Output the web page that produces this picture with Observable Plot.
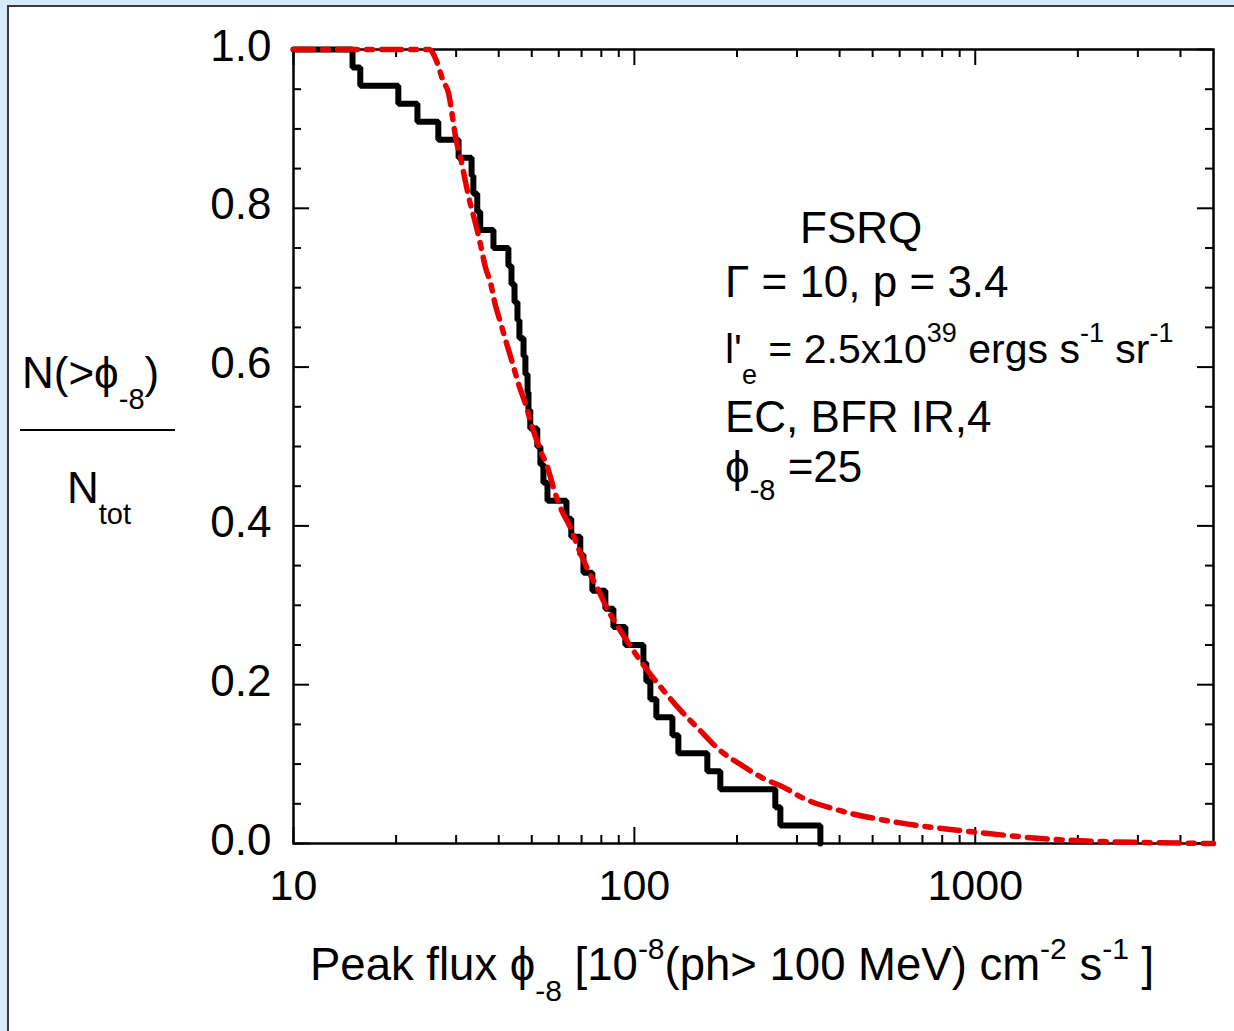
<!DOCTYPE html>
<html><head><meta charset="utf-8">
<script src="https://cdn.jsdelivr.net/npm/d3@7"></script>
<script src="https://cdn.jsdelivr.net/npm/@observablehq/plot@0.6"></script>
<style>
html,body{margin:0;padding:0;background:#d5eafa;width:1234px;height:1031px;overflow:hidden;}
#panel{position:absolute;left:7px;top:5px;width:1300px;height:1100px;background:#fff;border-left:2px solid #3a3a3a;border-top:2px solid #3a3a3a;}
#chart{position:absolute;left:0;top:0;}
svg text{white-space:pre;}
</style></head><body><div id="panel"></div><div id="chart"></div>
<script>
// Observed sample: step points (flux at which N(>phi)/Ntot drops, fraction after drop)
const stepFlux = [10, 14.9, 15.7, 20.3, 23.1, 26.6, 30.5, 33.3, 33.7, 34.6, 35.3, 38.6, 42.7, 43.6, 44.5, 45.4, 46.0, 47.3, 47.9, 48.6, 48.9, 49.5, 51.9, 53.0, 54.1, 55.6, 63.2, 65.3, 69.4, 70.9, 75.3, 82.2, 86.8, 94.1, 106.3, 108.4, 111.4, 116.0, 129.3, 134.6, 163.7, 178.7, 259.1, 268.1, 351.3];
const stepFrac = [1.0, 0.9773, 0.9545, 0.9318, 0.9091, 0.8864, 0.8636, 0.8409, 0.8182, 0.7955, 0.7727, 0.75, 0.7273, 0.7045, 0.6818, 0.6591, 0.6364, 0.6136, 0.5909, 0.5682, 0.5455, 0.5227, 0.5, 0.4773, 0.4545, 0.4318, 0.4091, 0.3864, 0.3636, 0.3409, 0.3182, 0.2955, 0.2727, 0.25, 0.2273, 0.2045, 0.1818, 0.1591, 0.1364, 0.1136, 0.0909, 0.0682, 0.0455, 0.0227, 0.0];
// Model curve
const modelFlux = [10, 25, 26.2, 27.5, 28.5, 29.3, 29.9, 30.9, 31.9, 33.0, 34.2, 35.3, 36.6, 37.8, 39.1, 40.5, 41.9, 43.9, 45.7, 47.9, 50.2, 53.0, 55.6, 57.9, 60.7, 64.9, 68.5, 72.8, 78.4, 83.9, 91.0, 99.3, 109.2, 121.6, 136.4, 156.2, 178.7, 207.4, 238.9, 273.5, 313.1, 396.5, 602.7, 1014, 1900, 5000];
const modelFrac = [1.0, 1.0, 0.987, 0.96, 0.945, 0.914, 0.889, 0.864, 0.835, 0.806, 0.781, 0.756, 0.725, 0.707, 0.678, 0.656, 0.634, 0.605, 0.579, 0.554, 0.524, 0.495, 0.474, 0.448, 0.423, 0.398, 0.372, 0.346, 0.319, 0.293, 0.268, 0.243, 0.218, 0.193, 0.168, 0.142, 0.117, 0.098, 0.082, 0.071, 0.057, 0.042, 0.026, 0.014, 0.004, 0.0];
// Ticks
const xMajor = [10, 100, 1000];
const xMinor = [20, 30, 40, 50, 60, 70, 80, 90, 200, 300, 400, 500, 600, 700, 800, 900, 2000, 3000, 4000];
const yMajor = [0, 0.2, 0.4, 0.6, 0.8, 1.0];
const yMinor = [0.05, 0.1, 0.15, 0.25, 0.3, 0.35, 0.45, 0.5, 0.55, 0.65, 0.7, 0.75, 0.85, 0.9, 0.95];

const steps = stepFlux.map((f, i) => ({flux: f, frac: stepFrac[i]}));
const model = modelFlux.map((f, i) => ({flux: f, frac: modelFrac[i]}));

const FONT = "'Liberation Sans', Arial, Helvetica, sans-serif";
const W = 1234, H = 1031, mL = 293, mR = 21, mT = 49, mB = 188;
const pw = W - mL - mR, ph = H - mT - mB;
const MAJ = 16, MIN = 8;

const plot = Plot.plot({
  width: W, height: H,
  marginLeft: mL, marginRight: mR, marginTop: mT, marginBottom: mB,
  x: {type: "log", domain: [10, 5000]},
  y: {domain: [0, 1]},
  style: {fontFamily: FONT, background: "transparent", overflow: "visible", color: "#000"},
  marks: [
    Plot.tickX(xMajor, {x: d => d, insetTop: ph - MAJ, stroke: "#000", strokeWidth: 2}),
    Plot.tickX(xMinor, {x: d => d, insetTop: ph - MIN, stroke: "#000", strokeWidth: 2}),
    Plot.tickX(xMajor, {x: d => d, insetBottom: ph - MAJ, stroke: "#000", strokeWidth: 2}),
    Plot.tickX(xMinor, {x: d => d, insetBottom: ph - MIN, stroke: "#000", strokeWidth: 2}),
    Plot.tickY(yMajor, {y: d => d, insetRight: pw - MAJ, stroke: "#000", strokeWidth: 2}),
    Plot.tickY(yMinor, {y: d => d, insetRight: pw - MIN, stroke: "#000", strokeWidth: 2}),
    Plot.tickY(yMajor, {y: d => d, insetLeft: pw - MAJ, stroke: "#000", strokeWidth: 2}),
    Plot.tickY(yMinor, {y: d => d, insetLeft: pw - MIN, stroke: "#000", strokeWidth: 2}),
    Plot.frame({stroke: "#000", strokeWidth: 2.5}),
    Plot.axisX({ticks: xMajor, tickFormat: d => String(d), tickSize: 0, tickPadding: 26, fontSize: 43, label: null}),
    Plot.axisY({ticks: yMajor, tickFormat: d => d.toFixed(1), tickSize: 0, tickPadding: 22, fontSize: 44, label: null, dy: -3}),
    Plot.line(steps, {x: "flux", y: "frac", curve: "step-after", stroke: "#000", strokeWidth: 6, strokeLinejoin: "miter"}),
    Plot.line(model, {x: "flux", y: "frac", curve: "monotone-x", stroke: "#e60000", strokeWidth: 5.5, strokeDasharray: "20,9,6,9"})
  ]
});
document.getElementById("chart").appendChild(plot);

const svg = d3.select(plot);
function rich(x, y, parts, size = 44, shift = 21, small = 29) {
  const t = svg.append("text").attr("x", x).attr("y", y).attr("font-size", size)
    .attr("fill", "#000").attr("text-anchor", "start").style("font-family", FONT);
  let off = 0;
  for (const p of parts) {
    const target = p.sub ? shift : p.sup ? -shift : 0;
    t.append("tspan").attr("dy", target - off)
      .attr("font-size", (p.sub || p.sup) ? small : size).text(p.t);
    off = target;
  }
  return t;
}
// annotation block
rich(800, 243, [{t: "FSRQ"}]);
rich(725, 297, [{t: "Γ = 10, p = 3.4"}]);
rich(725, 363, [{t: "l'"}, {t: "e", sub: true}, {t: " = 2.5x10"}, {t: "39", sup: true}, {t: " ergs s"}, {t: "-1", sup: true}, {t: " sr"}, {t: "-1", sup: true}], 41, 21, 27);
rich(725, 432, [{t: "EC, BFR IR,4"}]);
rich(725, 482, [{t: "ϕ"}, {t: "-8", sub: true}, {t: " =25"}], 44, 18);
// y label
rich(22, 388, [{t: "N(>ϕ"}, {t: "-8", sub: true}, {t: ")"}], 44, 21);
svg.append("line").attr("x1", 20).attr("x2", 175).attr("y1", 430).attr("y2", 430).attr("stroke", "#000").attr("stroke-width", 2);
rich(67, 503, [{t: "N"}, {t: "tot", sub: true}], 44, 21);
// x label
rich(310, 980, [{t: "Peak flux ϕ"}, {t: "-8", sub: true}, {t: " [10"}, {t: "-8", sup: true}, {t: "(ph> 100 MeV) cm"}, {t: "-2", sup: true}, {t: " s"}, {t: "-1", sup: true}, {t: " ]"}], 45.5, 21, 30);
</script>
</body></html>
